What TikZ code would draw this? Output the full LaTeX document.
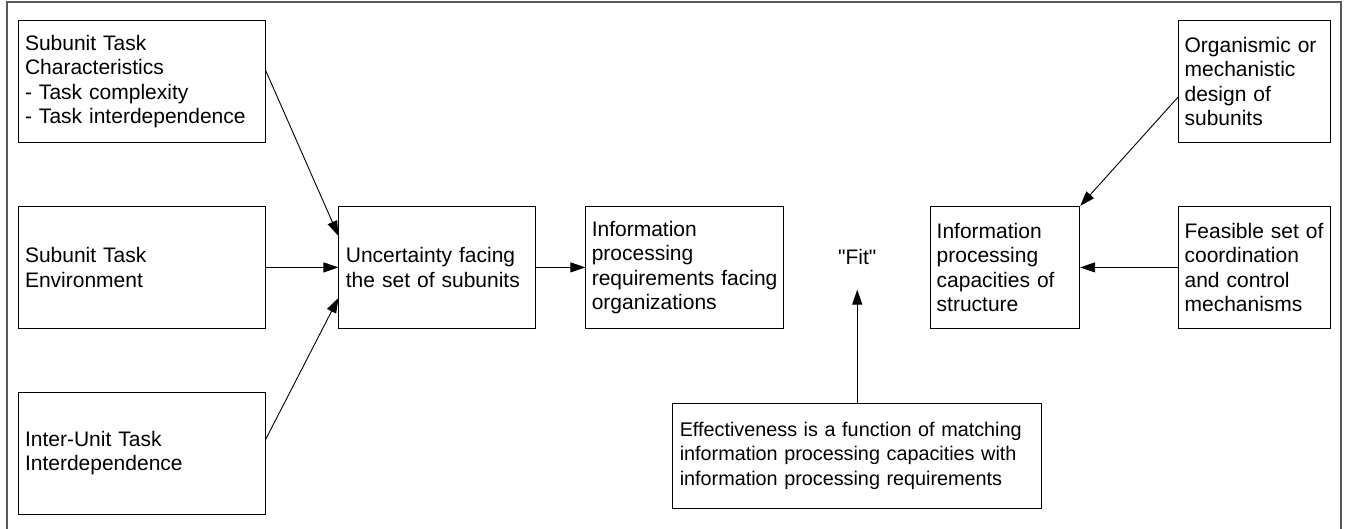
\documentclass[tikz,border=0pt]{standalone}
\usepackage{fontspec}
\setmainfont{Liberation Sans}
\usetikzlibrary{arrows.meta, positioning, calc}

\begin{document}
\begin{tikzpicture}[
		x=1pt, y=1pt,
		>={Triangle[length=15pt,width=10pt]},
		every node/.style={font=\fontsize{21}{24.5}\selectfont},
		box/.style={draw, rectangle, inner xsep=7pt, inner ysep=4pt, minimum height=122pt, align=left, line width=0.9pt},
		srcbox/.style={box, text width=233pt},
		uncbox/.style={box, text width=183pt},
		reqbox/.style={box, inner xsep=6pt, text width=186pt},
		capbox/.style={box, inner xsep=6pt, text width=137pt},
		sidebox/.style={box, inner xsep=6pt, text width=140pt},
		link/.style={->, line width=0.9pt}
		]
		
		\useasboundingbox (0,0) rectangle (1346,-529);
		\draw[black!65, line width=1.3pt] (7,-529) -- (7,-2) -- (1341,-2) -- (1341,-529);
		
		% --- Left column: task characteristics ---
		\node[srcbox] (stc) at (141.5,-81.5) {Subunit Task\\Characteristics\\- Task complexity\\- Task interdependence};
		\node[srcbox, below=63pt of stc] (ste) {Subunit Task\\Environment};
		\node[srcbox, below=63pt of ste] (iut) {Inter-Unit Task\\Interdependence};
		
		% --- Middle row: requirements side ---
		\node[uncbox, right=73pt of ste] (unc) {Uncertainty facing\\the set of subunits};
		\node[reqbox, right=49pt of unc] (ipr) {Information\\processing\\requirements facing\\organizations};
		
		% --- Right side: capacities side ---
		\node[capbox, right=146pt of ipr] (ipc) {Information\\processing\\capacities of\\structure};
		\node[sidebox, right=98pt of ipc] (ccm) {Feasible set of\\coordination\\and control\\mechanisms};
		\node[sidebox, above=63pt of ccm] (omd) {Organismic or\\mechanistic\\design of\\subunits};
		
		% --- Fit and effectiveness ---
		\node[yshift=10pt] (fit) at ($(ipr.east)!0.5!(ipc.west)$) {\textquotedbl Fit\textquotedbl};
		\node[box, below=134pt of fit, font=\fontsize{19.8}{24.5}\selectfont, text width=355pt, minimum height=105pt] (eff) {Effectiveness is a function of matching\\information processing capacities with\\information processing requirements};
		
		% --- Edges ---
		\draw[link] ([yshift=11.5pt]stc.east) -- ([yshift=31.5pt]unc.west);
		\draw[link] (ste.east) -- (unc.west);
		\draw[link] ([yshift=13.5pt]iut.east) -- ([yshift=-30.5pt]unc.west);
		\draw[link] (unc) -- (ipr);
		\draw[link] ([yshift=-15.5pt]omd.west) -- (ipc.north east);
		\draw[link] (ccm) -- (ipc);
		\draw[link] (eff.north) -- ([yshift=-21pt]fit.south);
	\end{tikzpicture}
\end{document}
